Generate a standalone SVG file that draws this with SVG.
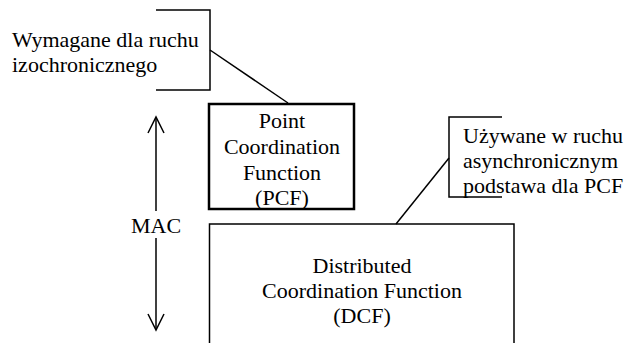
<svg xmlns="http://www.w3.org/2000/svg" width="627" height="343" viewBox="0 0 627 343">
<style>
  .t { font-family: 'Liberation Serif', 'Times New Roman', serif; font-size: 22px; fill: #000; }
  .c { text-anchor: middle; }
  .ln { stroke: #000; stroke-width: 1.5; fill: none; }
  .thick { stroke: #000; stroke-width: 2.5; fill: #fff; }
</style>
<rect width="627" height="343" fill="#fff"/>
<g id="connectors">
  <path class="ln" d="M156,10 H210 V90 H156"/>
  <line class="ln" x1="210" y1="50" x2="288" y2="103"/>
  <path class="ln" d="M502,117 H449 V197 H502"/>
  <line class="ln" x1="449" y1="158" x2="396" y2="224"/>
  <line class="ln" x1="156" y1="118" x2="156" y2="211"/>
  <line class="ln" x1="156" y1="238" x2="156" y2="329"/>
  <path class="ln" d="M148,133 L156,117 L164,133"/>
  <path class="ln" d="M148,314 L156,330 L164,314"/>
</g>
<g id="note-isochronous" class="t">
  <text x="12" y="47">Wymagane dla ruchu</text>
  <text x="12" y="72">izochronicznego</text>
</g>
<g id="pcf">
  <rect class="thick" x="209" y="104" width="145" height="105"/>
  <g class="t c">
    <text x="282" y="128">Point</text>
    <text x="282" y="154">Coordination</text>
    <text x="282" y="180">Function</text>
    <text x="282" y="205">(PCF)</text>
  </g>
</g>
<g id="note-async" class="t">
  <text x="463" y="143">Używane w ruchu</text>
  <text x="463" y="168">asynchronicznym</text>
  <text x="463" y="193">podstawa dla PCF</text>
</g>
<g id="dcf">
  <path class="ln" d="M209.5,345 V224 H514 V345"/>
  <g class="t c">
    <text x="362" y="273">Distributed</text>
    <text x="362" y="298">Coordination Function</text>
    <text x="362" y="323">(DCF)</text>
  </g>
</g>
<g id="mac" class="t c">
  <text x="156" y="233">MAC</text>
</g>
</svg>
